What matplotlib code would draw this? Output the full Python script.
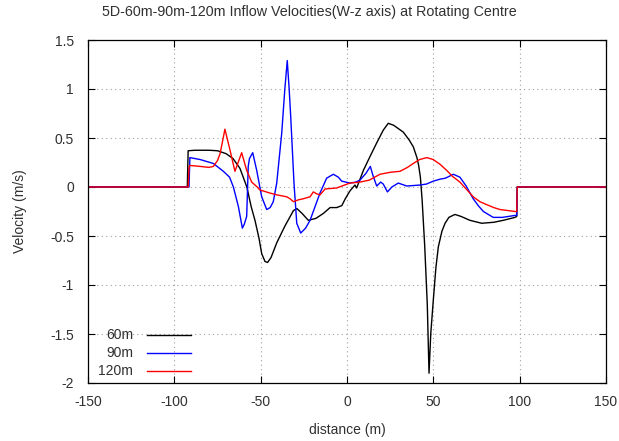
#!/usr/bin/env python3
"""Inflow velocities (W-z axis) at the rotating centre for 60m / 90m / 120m."""
import matplotlib
matplotlib.use("Agg")
import matplotlib.pyplot as plt  # noqa: E402
from matplotlib.ticker import FormatStrFormatter  # noqa: E402

plt.rcParams["font.family"] = ["Liberation Sans", "DejaVu Sans"]
plt.rcParams["axes.unicode_minus"] = False

# 60m
x60 = [-150, -92.5, -92, -88, -80, -75, -70, -66, -62, -58, -55.5, -53.3, -51, -49.4,
       -47.5, -46, -44, -40.7, -36, -31, -29, -26, -22.4, -18, -13.7, -9.8, -6, -3, -1,
       1.7, 4.6, 5.6, 9.5, 13.3, 17.2, 21, 23.9, 27, 32.6, 36, 38.4, 40.5, 41.5, 42.5,
       43.5, 45, 46.5, 47.5, 48.5, 50, 51.5, 52.9, 55, 56.8, 59, 62.5, 66, 71.2, 78, 85,
       90.5, 97.3, 98.3, 98.6, 150]
y60 = [0, 0, 0.37, 0.375, 0.375, 0.37, 0.34, 0.29, 0.19, 0.0, -0.2, -0.34, -0.52, -0.68,
       -0.76, -0.77, -0.72, -0.57, -0.4, -0.24, -0.22, -0.27, -0.34, -0.32, -0.27, -0.21,
       -0.21, -0.19, -0.12, -0.04, 0.02, -0.01, 0.17, 0.31, 0.45, 0.58, 0.65, 0.63, 0.56,
       0.48, 0.41, 0.3, 0.22, 0.1, -0.13, -0.6, -1.2, -1.9, -1.5, -1.15, -0.82, -0.61,
       -0.45, -0.37, -0.31, -0.28, -0.3, -0.34, -0.37, -0.36, -0.34, -0.31, -0.3, 0, 0]

# 90m
x90 = [-150, -91.5, -91, -85, -77.4, -71.6, -68, -65.8, -62.9, -60.6, -59.5, -58.1,
       -57.2, -56.5, -54.6, -52.3, -49.4, -46.5, -44.5, -42.7, -40.7, -37.8, -36, -34.6,
       -33.5, -32.6, -30.7, -29.1, -26.8, -24, -21.4, -15.6, -11.8, -7.9, -5, -3.1, 1.7,
       5, 7.5, 11, 13.5, 15, 17.2, 19.5, 21, 23.4, 26, 29.7, 34.6, 42.3, 46, 50, 53.9,
       57, 61.6, 65.4, 69, 73.1, 76, 79, 84.7, 90, 97.3, 98.3, 98.6, 150]
y90 = [0, 0, 0.3, 0.28, 0.24, 0.16, 0.1, 0.0, -0.2, -0.42, -0.38, -0.3, 0.21, 0.29,
       0.35, 0.17, -0.1, -0.23, -0.21, -0.15, 0.04, 0.55, 1.0, 1.29, 1.0, 0.72, 0.04,
       -0.37, -0.47, -0.42, -0.34, -0.06, 0.09, 0.13, 0.1, 0.06, 0.04, 0.05, 0.07, 0.14,
       0.21, 0.12, 0.01, 0.05, 0.03, -0.05, 0.0, 0.04, 0.01, 0.02, 0.03, 0.06, 0.08,
       0.09, 0.13, 0.1, 0.01, -0.12, -0.19, -0.25, -0.31, -0.31, -0.29, -0.29, 0, 0]

# 120m
x120 = [-150, -92, -91.5, -91, -85, -80, -77.4, -75, -73.5, -70.7, -67.8, -64.9, -61,
        -58.1, -55.2, -52, -50.4, -45, -40.7, -34.9, -33, -31, -28, -25.3, -21.4, -19.5,
        -17.5, -15.6, -12.7, -6, 1.7, 7.5, 12.9, 19.1, 25, 30.7, 35, 38.4, 42, 46.2, 50,
        54, 57.7, 61, 65.4, 69, 73.1, 77, 80.9, 85, 88.6, 93, 97.3, 98.3, 98.6, 150]
y120 = [0, 0, 0.2, 0.22, 0.21, 0.2, 0.21, 0.27, 0.34, 0.59, 0.38, 0.16, 0.35, 0.17,
        0.05, 0.0, -0.03, -0.06, -0.08, -0.1, -0.12, -0.15, -0.13, -0.12, -0.1, -0.05,
        -0.07, -0.08, -0.02, -0.01, 0.04, 0.05, 0.07, 0.13, 0.15, 0.16, 0.2, 0.24, 0.28,
        0.3, 0.28, 0.23, 0.17, 0.11, 0.05, -0.02, -0.1, -0.15, -0.18, -0.21, -0.23,
        -0.24, -0.25, -0.25, 0, 0]

series = [("60m", x60, y60, "#000000"),
          ("90m", x90, y90, "#0000ff"),
          ("120m", x120, y120, "#ff0000")]

TXT = "#303030"

fig = plt.figure(figsize=(6.19, 4.41), dpi=100)
ax = fig.add_axes([88 / 619, 1 - 383 / 441, 518 / 619, 343 / 441])

for name, xs, ys, c in series:
    ax.plot(xs, ys, color=c, lw=1.0)

ax.set_xlim(-150, 150)
ax.set_ylim(-2, 1.5)
ax.set_xticks(range(-150, 151, 50))
ax.set_yticks([-2, -1.5, -1, -0.5, 0, 0.5, 1, 1.5])
ax.yaxis.set_major_formatter(FormatStrFormatter("%g"))
ax.tick_params(direction="in", length=5, width=0.8, top=True, right=True,
               labelsize=10, labelcolor=TXT)
ax.tick_params(axis="x", pad=9)
ax.tick_params(axis="y", pad=10)
ax.grid(color="#a0a0a0", ls=(0, (1, 3)), lw=0.8)
for s in ax.spines.values():
    s.set_linewidth(0.9)

ax.set_xlabel("distance (m)", fontsize=10, color=TXT, labelpad=10)
ax.set_ylabel("Velocity (m/s)", fontsize=10, color=TXT, labelpad=17)
fig.text(0.5, 1 - 12 / 441,
         "5D-60m-90m-120m Inflow Velocities(W-z axis) at Rotating Centre",
         ha="center", va="center", fontsize=10.3, color=TXT)

# gnuplot-style key: labels right-aligned, sample line to the right
for i, (name, xs, ys, c) in enumerate(series):
    yk = 0.14 - i * 0.0525
    ax.plot([0.114, 0.199], [yk, yk], color=c, lw=1.0, transform=ax.transAxes)
    ax.text(0.087, yk, name, ha="right", va="center", fontsize=10, color=TXT,
            transform=ax.transAxes)

fig.savefig("out.png", dpi=100)
